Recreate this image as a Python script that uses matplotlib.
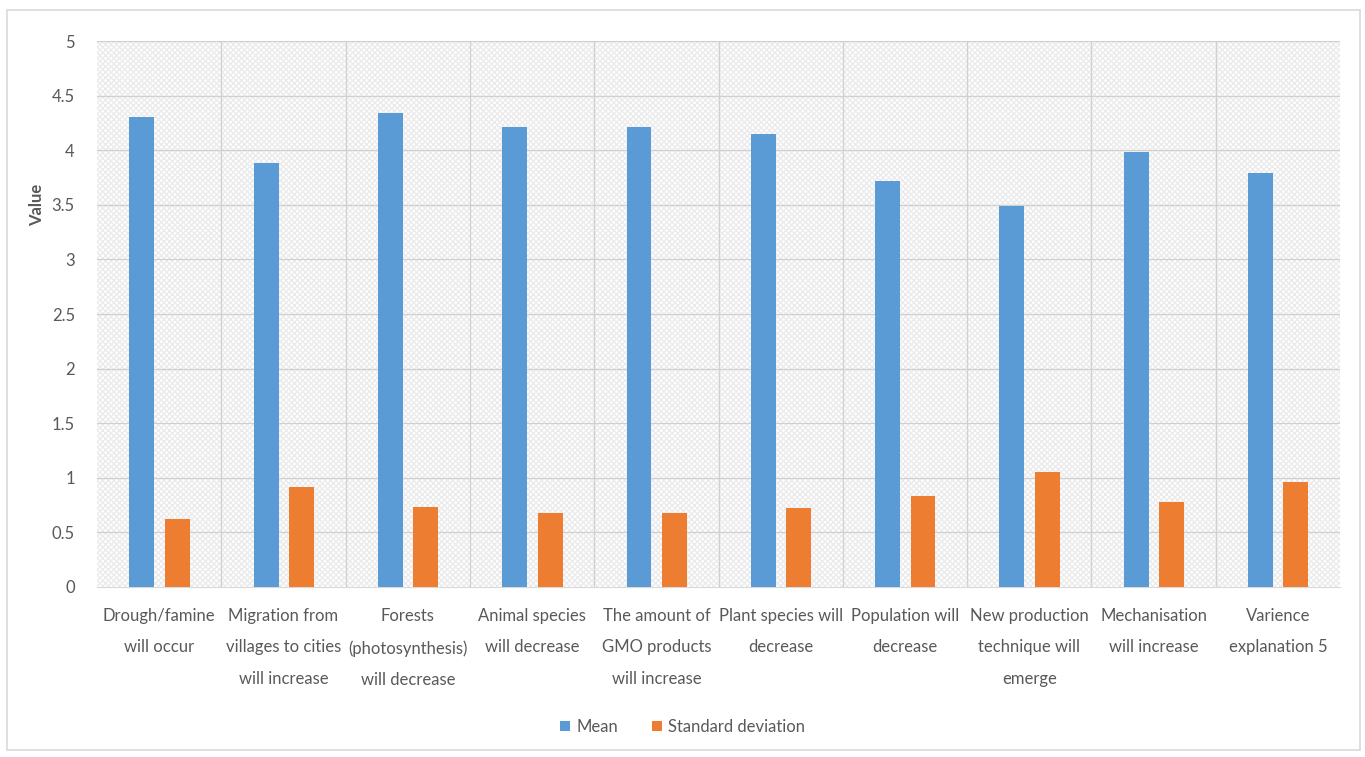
import numpy as np
import matplotlib.pyplot as plt
from matplotlib.patches import Rectangle

plt.rcParams['font.family'] = ['Lato', 'DejaVu Sans']

categories = [
    "Drough/famine\nwill occur",
    "Migration from\nvillages to cities\nwill increase",
    "Forests\n(photosynthesis)\nwill decrease",
    "Animal species\nwill decrease",
    "The amount of\nGMO products\nwill increase",
    "Plant species will\ndecrease",
    "Population will\ndecrease",
    "New production\ntechnique will\nemerge",
    "Mechanisation\nwill increase",
    "Varience\nexplanation 5",
]
mean = [4.30, 3.88, 4.34, 4.21, 4.21, 4.15, 3.72, 3.49, 3.98, 3.79]
std_dev = [0.62, 0.92, 0.73, 0.68, 0.68, 0.72, 0.83, 1.05, 0.78, 0.96]

blue = '#5b9bd5'
orange = '#ed7d31'
text_col = '#595959'

fig = plt.figure(figsize=(13.65, 7.57), dpi=100)
fig.patches.append(Rectangle((0.005, 0.009), 0.991, 0.978, transform=fig.transFigure,
                             fill=False, edgecolor='#d9d9d9', linewidth=1.2))

ax = fig.add_axes([0.0711, 0.2246, 0.9106, 0.7212])
x = np.arange(len(categories))

# dotted plot-area fill
ax.add_patch(Rectangle((0, 0), 1, 1, transform=ax.transAxes, facecolor='white',
                       hatch='xxxxxx', edgecolor='#ebebeb', linewidth=0, zorder=0))

ax.bar(x - 0.14, mean, width=0.2, color=blue, label='Mean', zorder=3)
ax.bar(x + 0.145, std_dev, width=0.2, color=orange, label='Standard deviation', zorder=3)

ax.set_xlim(-0.5, len(categories) - 0.5)
ax.set_ylim(0, 5)
ax.set_yticks(np.arange(0, 5.01, 0.5))
ax.set_yticklabels(['0', '0.5', '1', '1.5', '2', '2.5', '3', '3.5', '4', '4.5', '5'])
ax.set_xticks(x)
ax.set_xticklabels(categories, fontsize=12, color=text_col, linespacing=2.2, va='top')
ax.tick_params(axis='y', labelsize=12, colors=text_col, length=0, pad=16)
ax.tick_params(axis='x', length=0, pad=15)

for yv in np.arange(0.5, 5.01, 0.5):
    ax.axhline(yv, color='#d0d0d0', linewidth=0.9, zorder=1)
for xv in np.arange(0.5, len(categories) - 0.5, 1):
    ax.axvline(xv, color='#d0d0d0', linewidth=0.9, zorder=1)

for s in ['top', 'right', 'left']:
    ax.spines[s].set_visible(False)
ax.spines['bottom'].set_color('#d9d9d9')

ax.set_ylabel('Value', fontsize=12, color=text_col, fontweight='bold')
ax.yaxis.set_label_coords(-0.042, 0.7)

ax.legend(loc='upper center', bbox_to_anchor=(0.5, 0.07), bbox_transform=fig.transFigure,
          ncol=2, frameon=False, fontsize=12, labelcolor=text_col,
          handlelength=0.6, handleheight=0.6, handletextpad=0.4, columnspacing=2.0)

plt.savefig('out.png', dpi=100)
